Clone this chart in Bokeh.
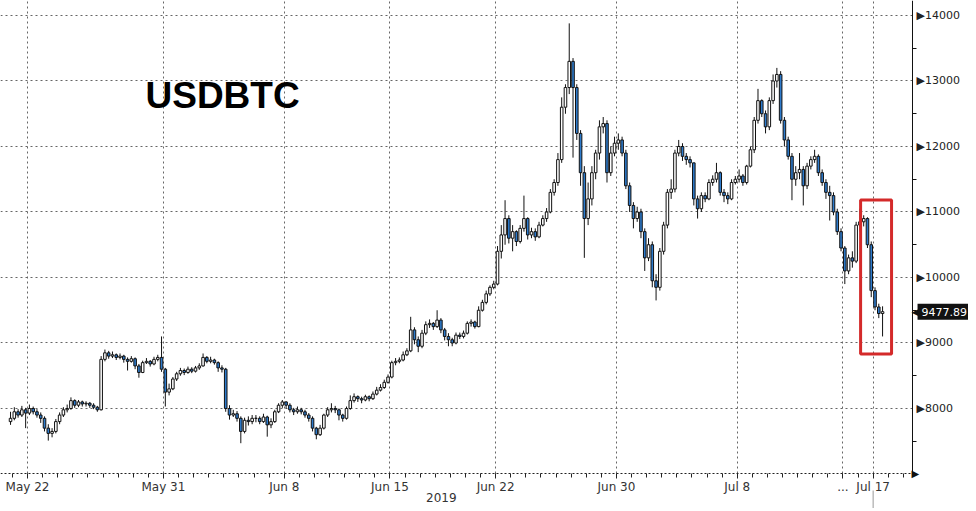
import pandas as pd
from bokeh.plotting import figure
from bokeh.models import (ColumnDataSource, Range1d, FixedTicker, Label, BoxAnnotation)
from bokeh.embed import file_html
from bokeh.resources import INLINE

# ---------------- data (6-hour candles, USD per BTC) ----------------
first_open = 7800
close = [
    7850,                          # May 20
    7950, 7900, 7980, 7930,        # May 21
    8000, 7950, 7900, 7850,        # May 22
    7700, 7620, 7650, 7800,        # May 23
    7900, 7980, 8000, 8120,        # May 24
    8050, 8100, 8070, 8080,        # May 25
    8050, 8020, 7980, 8750,        # May 26
    8850, 8800, 8820, 8780,        # May 27
    8800, 8750, 8720, 8760,        # May 28
    8650, 8550, 8700, 8720,        # May 29
    8680, 8750, 8780, 8600,        # May 30
    8250, 8300, 8450, 8530,        # May 31
    8580, 8550, 8600, 8570,        # Jun 1
    8620, 8650, 8780, 8720,        # Jun 2
    8740, 8700, 8620, 8600,        # Jun 3
    8000, 7900, 7920, 7850,        # Jun 4
    7650, 7820, 7800, 7850,        # Jun 5
    7850, 7800, 7870, 7750,        # Jun 6
    7800, 7950, 8050, 8100,        # Jun 7
    8050, 7980, 7950, 7980,        # Jun 8
    7950, 7900, 7850, 7700,        # Jun 9
    7600, 7700, 7900, 7980,        # Jun 10
    8000, 7980, 7900, 7850,        # Jun 11
    8000, 8120, 8180, 8150,        # Jun 12
    8130, 8180, 8150, 8220,        # Jun 13
    8280, 8320, 8400, 8480,        # Jun 14
    8700, 8720, 8740, 8820,        # Jun 15
    8880, 9200, 9050, 8950,        # Jun 16
    9150, 9280, 9300, 9250,        # Jun 17
    9350, 9200, 9100, 9050,        # Jun 18
    9000, 9120, 9100, 9150,        # Jun 19
    9300, 9320, 9250, 9500,        # Jun 20
    9620, 9750, 9850, 9900,        # Jun 21
    10400, 10650, 10900, 10600,    # Jun 22
    10700, 10550, 10750, 10900,    # Jun 23
    10650, 10700, 10620, 10800,    # Jun 24
    10900, 11000, 11300, 11450,    # Jun 25
    11800, 12600, 12900, 13300,    # Jun 26
    12900, 12200, 11600, 10900,    # Jun 27
    11200, 11600, 11900, 12300,    # Jun 28
    12350, 11600, 11900, 12050,    # Jun 29
    12100, 11900, 11400, 11100,    # Jun 30
    10900, 11000, 10700, 10300,    # Jul 1
    10500, 9950, 9850, 10400,      # Jul 2
    10800, 11300, 11350, 11900,    # Jul 3
    12000, 11850, 11800, 11750,    # Jul 4
    11200, 11050, 11250, 11200,    # Jul 5
    11450, 11500, 11600, 11300,    # Jul 6
    11250, 11200, 11450, 11500,    # Jul 7
    11550, 11450, 11700, 11950,    # Jul 8
    12400, 12700, 12500, 12300,    # Jul 9
    12700, 13000, 13100, 12400,    # Jul 10
    12100, 11850, 11500, 11600,    # Jul 11
    11650, 11400, 11700, 11800,    # Jul 12
    11850, 11600, 11450, 11300,    # Jul 13
    11250, 11000, 10700, 10450,    # Jul 14
    10100, 10300, 10250, 10800,    # Jul 15
    10850, 10900, 10500, 9800,     # Jul 16
    9550, 9450, 9477.89,           # Jul 17
]
high = [
    7950,
    8020, 7990, 8040, 8010,
    8060, 8030, 7990, 7940,
    7880, 7760, 7700, 7840,
    7940, 8020, 8060, 8170,
    8140, 8130, 8120, 8110,
    8100, 8080, 8040, 8800,
    8900, 8880, 8870, 8840,
    8840, 8820, 8780, 8800,
    8780, 8680, 8730, 8770,
    8740, 8790, 8820, 9100,
    8620, 8380, 8480, 8560,
    8620, 8610, 8640, 8630,
    8650, 8690, 8840, 8800,
    8790, 8760, 8720, 8660,
    8620, 8050, 7980, 7960,
    7880, 7860, 7880, 7900,
    7900, 7880, 7920, 7890,
    7850, 7980, 8080, 8130,
    8110, 8080, 8010, 8030,
    8010, 7980, 7930, 7880,
    7720, 7750, 7920, 8020,
    8080, 8040, 8000, 7920,
    8030, 8200, 8230, 8200,
    8180, 8210, 8200, 8260,
    8330, 8370, 8440, 8520,
    8730, 8770, 8780, 8870,
    8920, 9400, 9240, 9100,
    9200, 9330, 9360, 9320,
    9500, 9380, 9230, 9150,
    9080, 9160, 9160, 9190,
    9330, 9360, 9340, 9560,
    9660, 9800, 9880, 9950,
    10480, 10800, 11180, 10950,
    10800, 10720, 10800, 11250,
    10920, 10760, 10750, 10850,
    10950, 11060, 11350, 11500,
    11900, 12750, 12950, 13880,
    13350, 12950, 12250, 11700,
    11450, 11700, 11950, 12400,
    12450, 12400, 12000, 12150,
    12200, 12150, 11950, 11450,
    11150, 11080, 11050, 10750,
    10600, 10550, 10050, 10450,
    10850, 11350, 11500, 11950,
    12100, 12050, 11900, 11850,
    11750, 11250, 11300, 11300,
    11500, 11560, 11750, 11620,
    11350, 11300, 11500, 11550,
    11650, 11580, 11720, 12000,
    12450, 12880, 12720, 12550,
    12750, 13100, 13200, 13150,
    12450, 12150, 11900, 11700,
    11900, 11700, 11750, 11850,
    11950, 11880, 11650, 11500,
    11400, 11300, 11050, 10750,
    10480, 10350, 10400, 10850,
    11050, 10950, 10920, 10550,
    9850, 9600, 9560,
]
low = [
    7750,
    7820, 7860, 7870, 7700,
    7900, 7910, 7860, 7780,
    7650, 7510, 7560, 7620,
    7760, 7870, 7940, 7980,
    8010, 8020, 8030, 8030,
    8010, 7990, 7950, 7970,
    8720, 8760, 8770, 8740,
    8750, 8700, 8580, 8700,
    8600, 8470, 8540, 8680,
    8640, 8660, 8720, 8560,
    8030, 8200, 8280, 8420,
    8500, 8510, 8530, 8540,
    8550, 8590, 8640, 8690,
    8690, 8670, 8560, 8550,
    7950, 7830, 7870, 7800,
    7470, 7620, 7740, 7760,
    7790, 7760, 7780, 7570,
    7700, 7780, 7930, 8010,
    8000, 7940, 7900, 7920,
    7910, 7860, 7800, 7650,
    7530, 7580, 7680, 7870,
    7940, 7930, 7820, 7800,
    7830, 7980, 8090, 8100,
    8080, 8110, 8110, 8130,
    8200, 8260, 8300, 8380,
    8460, 8660, 8690, 8720,
    8800, 8860, 8980, 8860,
    8920, 9120, 9230, 9200,
    9230, 9150, 9040, 8950,
    8950, 8980, 9060, 9070,
    9130, 9250, 9220, 9240,
    9480, 9590, 9720, 9820,
    9880, 10290, 10500, 10520,
    10400, 10480, 10520, 10700,
    10580, 10600, 10560, 10600,
    10780, 10850, 10980, 11250,
    11400, 11750, 12500, 12800,
    11830, 12100, 11400, 10300,
    10800, 11100, 11500, 11800,
    12200, 11450, 11550, 11850,
    11950, 11850, 11350, 11000,
    10750, 10850, 10600, 10100,
    10250, 9850, 9650, 9800,
    10350, 10750, 11200, 11300,
    11850, 11780, 11720, 11680,
    11100, 10900, 11000, 11150,
    11180, 11400, 11450, 11250,
    11150, 11120, 11180, 11420,
    11450, 11400, 11420, 11680,
    11900, 12350, 12450, 12200,
    12250, 12650, 12900, 12350,
    12000, 11800, 11180, 11400,
    11500, 11100, 11350, 11650,
    11750, 11550, 11400, 11200,
    10870, 10950, 10650, 10400,
    9900, 10050, 10150, 10220,
    10700, 10780, 10450, 9700,
    9500, 9380, 9100,
]
first_candle = "2019-05-20 18:00"
axis_origin = "2019-05-22"
tick_days = [0, 9, 17, 24, 31, 39, 47, 54, 56]
tick_labels = ["May 22", "May 31", "Jun 8", "Jun 15", "Jun 22", "Jun 30", "Jul 8", "...", "Jul 17"]
price_ticks = [8000, 9000, 10000, 11000, 12000, 13000, 14000]
price_minor = [7500, 8500, 9500, 10500, 11500, 12500, 13500]
year_label = "2019"
year_pos = 27.4
title_text = "USDBTC"
highlight_days = [55.17, 57.22]
highlight_prices = [8832, 11183]

# ---------------- build candles ----------------
times = pd.date_range(first_candle, periods=len(close), freq="6h")
xd = [((t - pd.Timestamp(axis_origin)) / pd.Timedelta(days=1)) + 0.125 for t in times]
opn = [first_open] + close[:-1]
hi = [max(h, o, c) for h, o, c in zip(high, opn, close)]
lo = [min(l, o, c) for l, o, c in zip(low, opn, close)]
top = [max(o, c) for o, c in zip(opn, close)]
bot = [min(o, c) for o, c in zip(opn, close)]
col = ["#ffffff" if c >= o else "#2e7bcc" for o, c in zip(opn, close)]
src = ColumnDataSource(dict(x=xd, hi=hi, lo=lo, top=top, bot=bot, col=col))

W, H = 968, 508
X0, PX_PER_DAY = -1.79, 15.1
Y1, PX_PER_USD = 14229, 0.0655
X1 = X0 + W / PX_PER_DAY
Y0 = Y1 - H / PX_PER_USD
AXIS_X = 58.61      # where the price axis sits
AXIS_Y = 7008       # where the date axis sits

p = figure(width=W, height=H, x_range=Range1d(X0, X1), y_range=Range1d(Y0, Y1),
           y_axis_location="right", output_backend="svg", toolbar_location=None,
           min_border=0, min_border_left=0, min_border_top=0,
           min_border_right=0, min_border_bottom=0)
p.outline_line_color = None
p.background_fill_color = "white"
p.border_fill_color = "white"

# grid
xt = FixedTicker(ticks=tick_days, minor_ticks=list(range(-1, 59)))
p.xgrid.ticker = xt
p.xgrid.grid_line_dash = "2 3"
p.xgrid.grid_line_color = "#666666"
p.ygrid.ticker = FixedTicker(ticks=price_ticks)
p.ygrid.grid_line_dash = "2 3"
p.ygrid.grid_line_color = "#666666"
# white masks so grid lines stop at the axes
p.add_layout(BoxAnnotation(left=AXIS_X, fill_color="white", fill_alpha=1, line_alpha=0, level="underlay"))
p.add_layout(BoxAnnotation(top=AXIS_Y, fill_color="white", fill_alpha=1, line_alpha=0, level="underlay"))

# candles
p.segment(x0="x", y0="lo", x1="x", y1="hi", source=src, line_color="#111111", line_width=1)
p.vbar(x="x", width=0.17, top="top", bottom="bot", source=src,
       fill_color="col", line_color="#111111", line_width=1)

# ---------------- axes ----------------
xa = p.xaxis[0]
xa.fixed_location = AXIS_Y
xa.bounds = (X0, AXIS_X)
xa.ticker = xt
xa.major_label_overrides = {d: s for d, s in zip(tick_days, tick_labels)}
xa.axis_line_dash = "2 2"
xa.axis_line_color = "#222222"
xa.major_tick_in = 0
xa.major_tick_out = 5
xa.minor_tick_in = 0
xa.minor_tick_out = 4
xa.major_tick_line_color = "#222222"
xa.minor_tick_line_color = "#222222"
xa.major_label_text_font = "DejaVu Sans"
xa.major_label_text_font_size = "12px"
xa.major_label_text_color = "#333333"
xa.major_label_standoff = 2

ya = p.yaxis[0]
ya.fixed_location = AXIS_X
ya.bounds = (AXIS_Y, Y1)
ya.ticker = FixedTicker(ticks=price_ticks, minor_ticks=price_minor)
ya.major_label_overrides = {v: "\u25B6" + str(v) for v in price_ticks}
ya.axis_line_color = "#111111"
ya.major_tick_line_color = None
ya.major_tick_out = 0
ya.minor_tick_in = 0
ya.minor_tick_out = 4
ya.minor_tick_line_color = "#111111"
ya.major_label_text_font = "DejaVu Sans"
ya.major_label_text_font_size = "11px"
ya.major_label_text_color = "#222222"
ya.major_label_standoff = 0

# arrow at end of date axis
p.add_layout(Label(x=AXIS_X, y=AXIS_Y, text="\u25B6", text_font="DejaVu Sans", text_font_size="10px",
                   text_color="#111111", text_align="left", text_baseline="middle", x_offset=-1))

# year label below the date axis
p.add_layout(Label(x=year_pos, y=11, y_units="screen", text=year_label, text_font="DejaVu Sans",
                   text_font_size="12px", text_color="#333333", text_align="center",
                   text_baseline="middle"))
# thin separator line under the last date label
sep_top = AXIS_Y - 17 / PX_PER_USD
p.segment(x0=[tick_days[-1]], y0=[Y0], x1=[tick_days[-1]], y1=[sep_top],
          line_color="#9a9a9a", line_width=1)

# highlight box
p.add_layout(BoxAnnotation(left=highlight_days[0], right=highlight_days[1],
                           bottom=highlight_prices[0], top=highlight_prices[1],
                           fill_alpha=0, line_color="#d42a2a", line_alpha=1.0, line_width=3))

# last price tag
last = close[-1]
p.add_layout(Label(x=AXIS_X, y=last, text="\u25C0", text_font="DejaVu Sans", text_font_size="13px",
                   text_color="#111111", text_align="left", text_baseline="middle", x_offset=-1))
p.add_layout(Label(x=AXIS_X, y=last, text=f"{last:.2f}", text_font="DejaVu Sans", text_font_size="11px",
                   text_color="white", text_align="left", text_baseline="middle", x_offset=5,
                   background_fill_color="#111111", padding=4))

# title
p.add_layout(Label(x=145, y=413, x_units="screen", y_units="screen", text=title_text,
                   text_font="Liberation Sans", text_font_style="bold", text_font_size="37px",
                   text_color="black", text_baseline="alphabetic"))

open("out.html", "w").write(file_html(p, INLINE))
